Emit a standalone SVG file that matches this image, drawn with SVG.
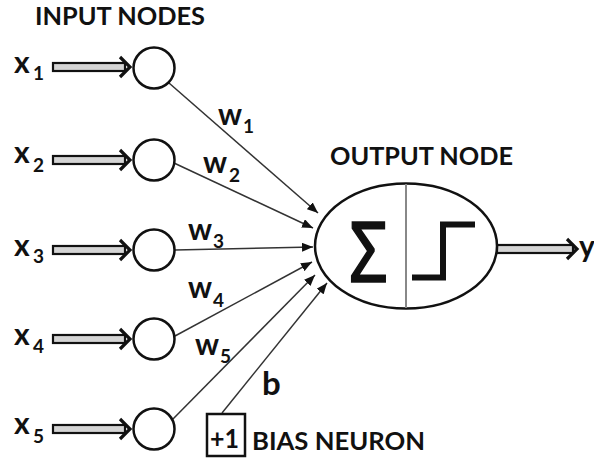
<svg xmlns="http://www.w3.org/2000/svg" width="594" height="459" viewBox="0 0 594 459">
<style>
.lbl{font-family:Lato,"Open Sans","Liberation Sans",sans-serif;font-weight:bold;fill:#111}
.big{font-size:30px}
.sub{font-size:19px}
.title{font-size:24px}
.node{fill:#fff;stroke:#111;stroke-width:2.5}
.conn{stroke:#333;stroke-width:1.5;fill:none}
.shaft{fill:#d4d4d4;stroke:#111;stroke-width:2.2}
.head{fill:none;stroke:#111;stroke-width:3.2;stroke-linejoin:miter}
</style>
<defs>
<marker id="ah" markerUnits="userSpaceOnUse" markerWidth="11" markerHeight="9" refX="11" refY="4.5" orient="auto">
<path d="M0,0 L11,4.5 L0,9 z" fill="#111"/>
</marker>
<g id="inarrow">
<rect class="shaft" x="53" y="-4" width="72" height="8"/>
<polyline class="head" points="120,-10 130,0 120,10"/>
</g>
</defs>
<rect width="594" height="459" fill="#fff"/>
<text class="lbl title" x="35" y="25" textLength="170" lengthAdjust="spacingAndGlyphs">INPUT NODES</text>
<text class="lbl title" x="330" y="165" textLength="183" lengthAdjust="spacingAndGlyphs">OUTPUT NODE</text>

<g id="connectors">
<use href="#inarrow" transform="translate(0,67)"/>
<use href="#inarrow" transform="translate(0,160)"/>
<use href="#inarrow" transform="translate(0,250)"/>
<use href="#inarrow" transform="translate(0,339)"/>
<use href="#inarrow" transform="translate(0,429)"/>
<line class="conn" x1="169" y1="83" x2="318" y2="213" marker-end="url(#ah)"/>
<line class="conn" x1="174" y1="163" x2="313" y2="228" marker-end="url(#ah)"/>
<line class="conn" x1="175" y1="250" x2="313" y2="247" marker-end="url(#ah)"/>
<line class="conn" x1="175" y1="336" x2="312" y2="262" marker-end="url(#ah)"/>
<line class="conn" x1="172" y1="420" x2="315" y2="275" marker-end="url(#ah)"/>
<line class="conn" x1="222" y1="413" x2="327" y2="283" marker-end="url(#ah)"/>
<g id="out-arrow">
<rect class="shaft" x="497" y="245" width="76" height="8"/>
<polyline class="head" points="567,239 577,249 567,259"/>
</g>
</g>

<g id="in1"><circle class="node" cx="154" cy="68" r="20.5"/>
<text class="lbl big" x="14" y="73">x</text><text class="lbl sub" x="33" y="80">1</text></g>
<g id="in2"><circle class="node" cx="154" cy="160" r="20.5"/>
<text class="lbl big" x="14" y="163">x</text><text class="lbl sub" x="33" y="172">2</text></g>
<g id="in3"><circle class="node" cx="154" cy="250" r="20.5"/>
<text class="lbl big" x="14" y="256">x</text><text class="lbl sub" x="33" y="263">3</text></g>
<g id="in4"><circle class="node" cx="154" cy="339" r="20.5"/>
<text class="lbl big" x="14" y="345">x</text><text class="lbl sub" x="33" y="353">4</text></g>
<g id="in5"><circle class="node" cx="154" cy="429" r="20.5"/>
<text class="lbl big" x="14" y="434">x</text><text class="lbl sub" x="33" y="443">5</text></g>

<g id="weights">
<text class="lbl big" x="218" y="125">w</text><text class="lbl sub" x="243" y="133">1</text>
<text class="lbl big" x="203" y="173">w</text><text class="lbl sub" x="229" y="182">2</text>
<text class="lbl big" x="188" y="240">w</text><text class="lbl sub" x="213" y="248">3</text>
<text class="lbl big" x="188" y="298">w</text><text class="lbl sub" x="213" y="307">4</text>
<text class="lbl big" x="195" y="355">w</text><text class="lbl sub" x="220" y="363">5</text>
<text class="lbl" x="262" y="395" font-size="33">b</text>
</g>

<g id="output">
<ellipse class="node" cx="406" cy="246" rx="91" ry="62.5"/>
<line x1="406" y1="184" x2="406" y2="308" stroke="#888" stroke-width="2"/>
<text x="349" y="282" font-family="'Noto Sans','DejaVu Sans',sans-serif" font-size="84" fill="#111" stroke="#111" stroke-width="1.6" textLength="39" lengthAdjust="spacingAndGlyphs">Σ</text>
<polyline points="412,277.5 443,277.5 443,224.5 475,224.5" fill="none" stroke="#111" stroke-width="6"/>
</g>

<g id="bias">
<rect x="207" y="414" width="38" height="42" fill="#fff" stroke="#111" stroke-width="2.5"/>
<text class="lbl" x="210" y="448" font-size="26" textLength="29" lengthAdjust="spacingAndGlyphs">+1</text>
<text class="lbl title" x="252" y="450" textLength="173" lengthAdjust="spacingAndGlyphs">BIAS NEURON</text>
</g>

<text class="lbl big" x="579" y="257">y</text>
</svg>
